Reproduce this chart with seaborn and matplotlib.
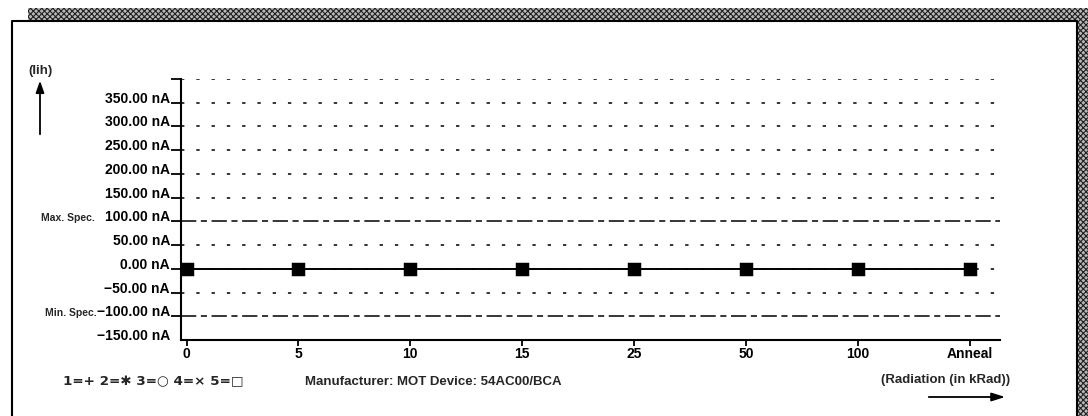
import matplotlib
matplotlib.use("Agg")
import matplotlib.pyplot as plt
from matplotlib.patches import Rectangle, FancyArrowPatch
from matplotlib.lines import Line2D
import matplotlib.transforms as mtrans
import seaborn as sns
import pandas as pd

# ---- data ----
categories = ["0", "5", "10", "15", "25", "50", "100", "Anneal"]
iih_values = [0, 0, 0, 0, 0, 0, 0, 0]
ytick_values = [-150, -100, -50, 0, 50, 100, 150, 200, 250, 300, 350, 400]
ytick_labels = ["\u2212150.00 nA", "\u2212100.00 nA", "\u221250.00 nA", "0.00 nA",
                "50.00 nA", "100.00 nA", "150.00 nA", "200.00 nA", "250.00 nA",
                "300.00 nA", "350.00 nA", ""]
dotted_levels = [400, 350, 300, 250, 200, 150, 50, 0, -50]
spec_levels = [100, -100]
spec_names = ["Max. Spec.", "Min. Spec."]
legend_text = "1=+ 2=\u2731 3=\u25cb 4=\u00d7 5=\u25a1"
info_text = "Manufacturer: MOT Device: 54AC00/BCA"
xlabel_text = "(Radiation (in kRad))"
ylabel_text = "(Iih)"

sns.set_theme(style="white")
plt.rcParams["font.family"] = ["Liberation Sans", "DejaVu Sans"]
plt.rcParams["font.weight"] = "bold"

W, H = 1088, 416
fig = plt.figure(figsize=(W / 100, H / 100), dpi=100)
fig.patch.set_facecolor("white")

def fx(px):
    return px / W

def fy(py):
    return 1 - py / H

ax = fig.add_axes([fx(181), fy(340), fx(1000) - fx(181), fy(79) - fy(340)])
ax.set_facecolor("white")

# grid lines
for lv in dotted_levels:
    ax.axhline(lv, color="black", lw=1.1, ls=(0, (2.2, 7.8)), zorder=1)
for lv in spec_levels:
    ax.axhline(lv, color="black", lw=1.1, ls=(0, (10, 3, 4, 3)), zorder=1)

df = pd.DataFrame({"kRad": categories, "Iih": iih_values})
sns.pointplot(data=df, x="kRad", y="Iih", order=categories, color="black",
              markers="s", markersize=8, linewidth=1.4, ax=ax, zorder=3)

ax.set_xlim(-0.05, 7.27)
ax.set_ylim(-150, 400)
ax.set_yticks(ytick_values)
ax.set_yticklabels(ytick_labels, fontsize=10, fontweight="bold")
for lbl in ax.get_yticklabels():
    lbl.set_verticalalignment("baseline")
ax.tick_params(axis="y", direction="out", length=7, width=1.3, pad=1, colors="black", left=True)
ax.yaxis.get_major_ticks()[0].tick1line.set_visible(False)
ax.tick_params(axis="x", direction="out", length=4, width=1.3, pad=1, labelsize=10, colors="black", bottom=True)
for lbl in ax.get_xticklabels():
    lbl.set_fontweight("bold")
ax.set_xlabel("")
ax.set_ylabel("")
for s in ["top", "right"]:
    ax.spines[s].set_visible(False)
for s in ["left", "bottom"]:
    ax.spines[s].set_color("black")
    ax.spines[s].set_linewidth(1.5)

# spec names
blend = mtrans.blended_transform_factory(fig.transFigure, ax.transData)
ax.text(fx(41), spec_levels[0], spec_names[0], transform=blend, fontsize=7.5,
        fontweight="bold", va="baseline", ha="left")
ax.text(fx(45), spec_levels[1], spec_names[1], transform=blend, fontsize=7.5,
        fontweight="bold", va="baseline", ha="left")

# y label and arrow
fig.text(fx(28), fy(71), ylabel_text, fontsize=9.5, fontweight="bold", va="center", ha="left")
fig.patches.append(FancyArrowPatch((fx(40), fy(137)), (fx(40), fy(78)), transform=fig.transFigure,
                                   arrowstyle="-|>,head_length=7,head_width=2.5", color="black", lw=1.3))

# bottom texts
fig.text(fx(63), fy(382), legend_text, fontsize=9.7, fontweight="bold", va="center", ha="left",
         family=["DejaVu Sans"])
fig.text(fx(305), fy(382), info_text, fontsize=9.5, fontweight="bold", va="center", ha="left")
fig.text(fx(1010), fy(380), xlabel_text, fontsize=9.5, fontweight="bold", va="center", ha="right")
fig.patches.append(FancyArrowPatch((fx(926), fy(397)), (fx(1008), fy(397)), transform=fig.transFigure,
                                   arrowstyle="-|>,head_length=8,head_width=2.5", color="black", lw=1.3))

# frame: hatched bands and panel edges
plt.rcParams["hatch.linewidth"] = 0.8
top_band = Rectangle((fx(28), fy(22)), fx(1088) - fx(28), fy(8) - fy(22), transform=fig.transFigure,
                     facecolor="#b8b8b8", edgecolor="#202020", hatch="xxxxxx", lw=0)
right_band = Rectangle((fx(1077), 0), fx(1088) - fx(1077), fy(8), transform=fig.transFigure,
                       facecolor="#b8b8b8", edgecolor="#202020", hatch="xxxxxx", lw=0)
fig.patches.extend([top_band, right_band])
fig.lines.append(Line2D([fx(12), fx(12), fx(1077), fx(1077)], [0, fy(21), fy(21), 0],
                        transform=fig.transFigure, color="black", lw=1.5))

fig.savefig("out.png", dpi=100, facecolor="white")
